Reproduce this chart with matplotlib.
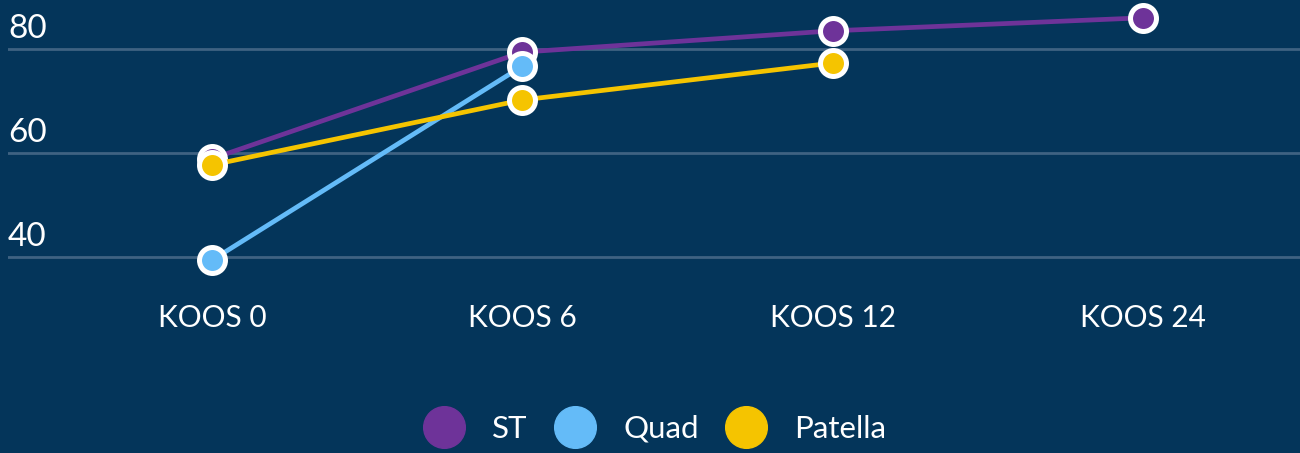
import matplotlib
matplotlib.use("Agg")
import matplotlib.pyplot as plt
from matplotlib.lines import Line2D
from matplotlib.transforms import offset_copy

categories = ["KOOS 0", "KOOS 6", "KOOS 12", "KOOS 24"]
st_values = [58.9, 79.4, 83.5, 86.0]
quad_values = [39.4, 76.7]
patella_values = [57.7, 70.2, 77.3]
series_names = ["ST", "Quad", "Patella"]
y_ticks = [40, 60, 80]

BG = "#04355A"
GRID = "#3F6282"
COLORS = ["#6E3399", "#64BBF8", "#F5C400"]
FONT = ["Lato", "DejaVu Sans"]

W, H = 1300, 453
fig = plt.figure(figsize=(W / 100, H / 100), dpi=100, facecolor=BG)

ax = fig.add_axes([8 / W, 1 - 290 / H, (W - 8) / W, 290 / H], facecolor=BG)

ppu_x = (1143 - 212) / 3
ax.set_xlim((8 - 212) / ppu_x, (1300 - 212) / ppu_x)
ppu_y = (257 - 49) / 40
ax.set_ylim(40 - (290 - 257) / ppu_y, 40 + 257 / ppu_y)

label_tr = offset_copy(ax.get_yaxis_transform(), fig=fig, x=0, y=3.8, units="points")
for t in y_ticks:
    ax.axhline(t, color=GRID, lw=2, zorder=1)
    ax.text(0, t, str(t), transform=label_tr, ha="left", va="bottom",
            color="white", fontsize=24, family=FONT)

for s in ax.spines.values():
    s.set_visible(False)
ax.set_yticks([])
ax.set_xticks(range(len(categories)))
ax.set_xticklabels(categories, color="white", fontsize=21.5, family=FONT)
ax.tick_params(axis="x", length=0, pad=10)

all_vals = [st_values, quad_values, patella_values]
for i, (name, vals) in enumerate(zip(series_names, all_vals)):
    xs = list(range(len(vals)))
    ax.plot(xs, vals, color=COLORS[i], lw=3.4, zorder=2 + i * 2, solid_capstyle="round")
    ax.plot(xs, vals, ls="none", marker="o", ms=18.7, mfc=COLORS[i], mec="white",
            mew=3.6, zorder=3 + i * 2)

handles = [Line2D([], [], ls="none", marker="o", ms=30, mfc=c, mec=c) for c in COLORS]
fig.legend(handles, series_names, loc="center", bbox_to_anchor=(0.5 + 4 / W, 1 - 429 / H),
           ncol=3, frameon=False, labelcolor="white", prop={"family": FONT, "size": 22.5},
           handletextpad=0.85, columnspacing=0.8, handlelength=1.4)

fig.savefig("out.png", dpi=100, facecolor=BG)
